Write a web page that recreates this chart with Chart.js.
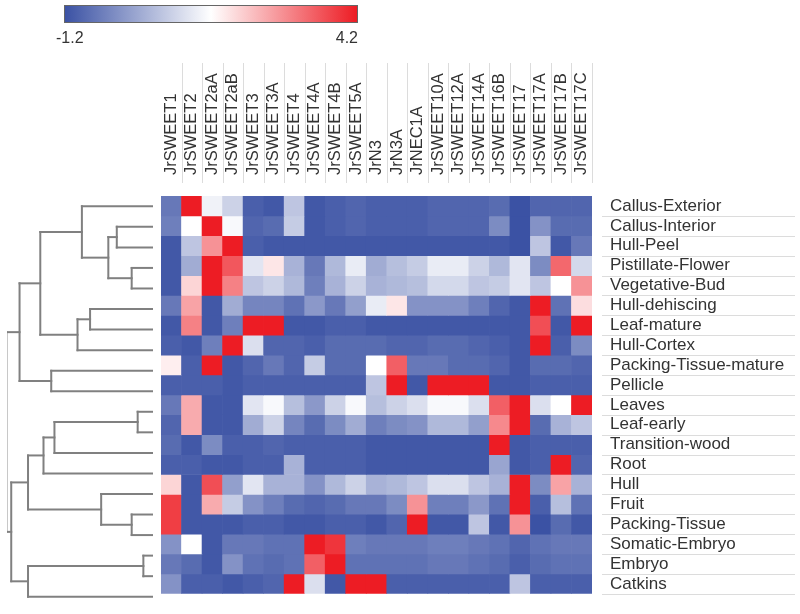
<!DOCTYPE html>
<html>
<head>
<meta charset="utf-8">
<script src="https://cdn.jsdelivr.net/npm/chart.js@4.4.1/dist/chart.umd.min.js"></script>
<style>
  body { margin: 0; background: #fff; }
  #wrap { position: relative; width: 800px; height: 614px; overflow: hidden; font-family: "Liberation Sans", Arial, sans-serif; }
  #heat { position: absolute; left: 0; top: 0; }
  #tree { position: absolute; left: 0; top: 196px; }
  #bar { position: absolute; left: 64px; top: 5px; width: 292px; height: 16px; border: 1px solid #666; }
  .lbl { position: absolute; top: 29px; font-size: 16px; color: #333; }
</style>
</head>
<body>
<div id="wrap">
  <canvas id="heat" width="800" height="614"></canvas>
  <canvas id="tree" width="161" height="411"></canvas>
  <div id="bar"></div>
  <div class="lbl" id="lblMin" style="left:56px;"></div>
  <div class="lbl" id="lblMax" style="right:442px;"></div>
</div>
<script>
const genes = ['JrSWEET1', 'JrSWEET2', 'JrSWEET2aA', 'JrSWEET2aB', 'JrSWEET3', 'JrSWEET3A', 'JrSWEET4',
  'JrSWEET4A', 'JrSWEET4B', 'JrSWEET5A', 'JrN3', 'JrN3A', 'JrNEC1A', 'JrSWEET10A', 'JrSWEET12A',
  'JrSWEET14A', 'JrSWEET16B', 'JrSWEET17', 'JrSWEET17A', 'JrSWEET17B', 'JrSWEET17C'];

const tissues = ['Callus-Exterior', 'Callus-Interior', 'Hull-Peel', 'Pistillate-Flower', 'Vegetative-Bud',
  'Hull-dehiscing', 'Leaf-mature', 'Hull-Cortex', 'Packing-Tissue-mature', 'Pellicle', 'Leaves',
  'Leaf-early', 'Transition-wood', 'Root', 'Hull', 'Fruit', 'Packing-Tissue', 'Somatic-Embryo',
  'Embryo', 'Catkins'];

const scaleMin = -1.2;
const scaleMax = 4.2;

// one row per tissue, one value per gene
const expression = [
  [-0.6, 4.2, 1.3, 0.8, -1.0, -1.1, 0.6, -1.1, -1.0, -0.9, -1.0, -1.0, -1.0, -0.9, -0.9, -0.9, -0.8, -1.2, -0.9, -0.9, -0.9],
  [-0.5, 1.5, 4.2, 1.4, -0.9, -0.8, 0.7, -1.1, -1.0, -0.9, -1.0, -1.0, -1.0, -0.9, -0.9, -0.9, -0.3, -1.2, -0.2, -0.8, -0.8],
  [-1.1, 0.6, 2.8, 4.2, -1.0, -1.1, -1.1, -1.1, -1.1, -1.1, -1.1, -1.1, -1.1, -1.1, -1.1, -1.1, -1.1, -1.2, 0.6, -1.1, -0.6],
  [-1.1, 0.2, 4.2, 3.5, 1.1, 1.8, 0.3, -0.6, 0.4, 1.2, 0.2, 0.5, 0.7, 1.2, 1.2, 0.8, 0.4, 1.1, -0.3, 3.3, 0.9],
  [-1.1, 2.0, 4.2, 3.0, 0.6, 0.8, 0.4, -0.5, 0.3, 0.8, 0.3, 0.4, 0.5, 0.9, 0.9, 0.6, 0.7, 1.1, 0.6, 1.5, 2.8],
  [-0.6, 2.6, -1.1, 0.2, -0.4, -0.4, -0.7, -0.1, -0.6, 0.0, 1.2, 1.8, -0.2, -0.2, -0.2, -0.5, -0.9, -1.1, 4.2, -0.7, 1.9],
  [-1.1, 3.0, -1.1, -0.5, 4.2, 4.2, -1.1, -1.1, -1.0, -1.0, -1.1, -1.1, -1.1, -1.1, -1.1, -1.1, -1.1, -1.1, 3.6, -1.1, 4.2],
  [-1.0, -1.1, -0.5, 4.2, 1.0, -0.9, -0.9, -1.0, -0.8, -0.8, -0.8, -0.9, -0.9, -0.8, -0.8, -0.9, -1.0, -1.1, 4.2, -1.0, -0.3],
  [1.7, -1.0, 4.2, -1.1, -0.9, -0.6, -0.9, 0.7, -0.8, -0.8, 1.5, 3.4, -0.6, -0.6, -0.8, -0.8, -0.9, -1.1, -0.8, -0.8, -0.9],
  [-1.0, -1.0, -1.0, -1.1, -1.0, -1.0, -1.0, -1.0, -1.0, -1.0, 0.6, 4.2, -1.1, 4.2, 4.2, 4.2, -1.1, -1.1, -1.0, -1.0, -1.0],
  [-0.6, 2.5, -1.1, -1.1, 1.1, 1.4, 0.5, -0.1, 0.8, 1.4, 0.5, 0.8, 1.0, 1.4, 1.4, 1.0, 3.4, 4.2, 1.0, 1.5, 4.2],
  [-0.9, 2.5, -1.1, -1.1, 0.2, 0.8, -0.4, -0.8, -0.3, 0.2, -0.5, -0.3, -0.2, 0.4, 0.4, 0.0, 2.9, 4.2, -0.8, 0.3, 0.6],
  [-0.8, -1.1, -0.3, -1.0, -1.0, -0.9, -1.0, -1.0, -1.0, -1.0, -1.1, -1.1, -1.1, -1.1, -1.1, -1.1, 4.2, -1.1, -1.0, -1.0, -1.0],
  [-1.0, -1.0, -1.1, -1.1, -1.0, -1.0, 0.3, -1.0, -1.0, -1.0, -1.1, -1.1, -1.1, -1.1, -1.1, -1.1, 0.1, -1.1, -1.0, 4.2, -0.9],
  [2.0, -1.1, 3.6, 0.0, 1.1, 0.3, 0.3, -0.2, 0.4, 0.8, 0.3, 0.4, 0.6, 1.0, 1.0, 0.6, 0.3, 4.2, -0.3, 2.6, 0.3],
  [3.8, -1.1, 2.5, 0.7, -0.2, -0.5, -0.8, -0.9, -0.8, -0.6, -0.6, -0.3, 2.8, -0.5, -0.5, -0.1, -0.7, 4.2, -1.0, 0.5, -0.7],
  [3.8, -1.1, -1.1, -1.1, -1.0, -1.0, -1.1, -1.1, -1.0, -1.0, -1.1, -0.9, 4.2, -1.1, -1.1, 0.6, -1.1, 2.8, -1.2, -0.8, -1.1],
  [-0.2, 1.5, -1.1, -0.6, -0.6, -0.7, -0.7, 4.2, 3.9, -0.5, -0.6, -0.6, -0.6, -0.5, -0.5, -0.6, -0.7, -0.9, -0.7, -0.6, -0.6],
  [-0.6, -0.8, -1.1, -0.2, -0.7, -0.8, -0.7, 3.4, 4.2, -0.7, -0.7, -0.7, -0.7, -0.6, -0.6, -0.7, -0.8, -1.0, -0.8, -0.7, -0.7],
  [-0.2, -1.0, -1.0, -1.1, -1.0, -0.9, 4.2, 1.0, -1.1, 4.2, 4.2, -1.0, -1.0, -1.0, -1.0, -1.0, -1.0, 0.6, -1.0, -1.0, -1.0]
];

// row dendrogram, scipy style: index < 20 is a tissue, otherwise merge (index - 20)
const mergeLeft   = [1, 3, 20, 0, 5, 24, 23, 8, 26, 10, 29, 30, 15, 14, 31, 17, 35, 34, 28];
const mergeRight  = [2, 4, 21, 22, 6, 7, 25, 9, 27, 11, 12, 13, 16, 32, 33, 18, 19, 36, 37];
const mergeHeight = [0.248, 0.146, 0.306, 0.487, 0.431, 0.517, 0.772, 0.697, 0.914, 0.105,
  0.675, 0.75, 0.146, 0.355, 0.856, 0.066, 0.856, 0.971, 1.0];

const blue = [59, 82, 164];
const white = [255, 255, 255];
const red = [237, 28, 36];

function valueColor(v) {
  let t = (v - scaleMin) / (scaleMax - scaleMin);
  t = Math.max(0, Math.min(1, t));
  let a, b, f;
  if (t < 0.5) { a = blue; b = white; f = t / 0.5; }
  else { a = white; b = red; f = (t - 0.5) / 0.5; }
  const c = a.map((x, i) => Math.round(x + (b[i] - x) * f));
  return `rgb(${c[0]},${c[1]},${c[2]})`;
}

const fontFamily = '"Liberation Sans", Arial, sans-serif';
const geneFontSize = 16.5;

// colour key
document.getElementById('bar').style.background =
  `linear-gradient(to right, ${valueColor(scaleMin)}, ${valueColor((scaleMin + scaleMax) / 2)}, ${valueColor(scaleMax)})`;
document.getElementById('lblMin').textContent = scaleMin.toFixed(1);
document.getElementById('lblMax').textContent = scaleMax.toFixed(1);

// thin separators beside the labels
const dividers = {
  id: 'dividers',
  afterDraw(chart) {
    const ctx = chart.ctx;
    const x = chart.scales.x, y = chart.scales.y, rows = chart.scales.rows;
    const band = (chart.chartArea.right - chart.chartArea.left) / genes.length;
    ctx.save();
    ctx.strokeStyle = '#dcdcdc';
    ctx.lineWidth = 1;
    ctx.beginPath();
    for (let i = 0; i < genes.length; i++) {
      const px = Math.round(x.getPixelForValue(i) + band / 2) + 0.5;
      ctx.moveTo(px, 63);
      ctx.lineTo(px, chart.chartArea.top - 13);
    }
    for (let r = 1; r <= tissues.length; r++) {
      const py = Math.round(y.getPixelForValue(r)) + 0.5;
      ctx.moveTo(rows.left + 10, py);
      ctx.lineTo(795, py);
    }
    ctx.stroke();
    ctx.restore();
  }
};

const heatDatasets = tissues.map((t, r) => ({
  label: t,
  data: genes.map(() => [r, r + 1]),
  backgroundColor: expression[r].map(valueColor),
  borderWidth: 0,
  grouped: false,
  barPercentage: 1,
  categoryPercentage: 1,
  yAxisID: 'y'
}));

new Chart(document.getElementById('heat').getContext('2d'), {
  type: 'bar',
  data: { labels: genes, datasets: heatDatasets },
  options: {
    responsive: false,
    animation: false,
    layout: { padding: { left: 161, top: 0, right: 0, bottom: 7 } },
    plugins: { legend: { display: false }, tooltip: { enabled: false } },
    scales: {
      x: {
        type: 'category',
        position: 'top',
        grid: { display: false },
        border: { display: false },
        ticks: {
          autoSkip: false, minRotation: 90, maxRotation: 90, padding: 13,
          // chart.js pushes rotated top labels one line height to the left
          labelOffset: geneFontSize * 1.2,
          color: '#333', font: { family: fontFamily, size: geneFontSize }
        },
        afterFit(s) { s.height = 196; }
      },
      y: { type: 'linear', min: 0, max: tissues.length, reverse: true, display: false },
      rows: {
        type: 'category',
        position: 'right',
        labels: tissues,
        offset: true,
        grid: { display: false },
        border: { display: false },
        ticks: { autoSkip: false, padding: 10, color: '#333', font: { family: fontFamily, size: 17 } },
        afterFit(s) { s.width = 208; }
      }
    }
  },
  plugins: [dividers]
});

// dendrogram segments from the merge table
function dendrogramSegments() {
  const pos = tissues.map((t, i) => [i + 0.5, 0]);
  const segs = [];
  mergeLeft.forEach((a, k) => {
    const b = mergeRight[k], h = mergeHeight[k];
    const [ya, ha] = pos[a], [yb, hb] = pos[b];
    const isRoot = k === mergeLeft.length - 1;
    segs.push({ pts: [{ x: ha, y: ya }, { x: h, y: ya }], light: false });
    segs.push({ pts: [{ x: hb, y: yb }, { x: h, y: yb }], light: false });
    segs.push({ pts: [{ x: h, y: ya }, { x: h, y: yb }], light: isRoot });
    pos.push([(ya + yb) / 2, h]);
  });
  return segs;
}

new Chart(document.getElementById('tree').getContext('2d'), {
  type: 'scatter',
  data: {
    datasets: dendrogramSegments().map(s => ({
      data: s.pts,
      showLine: true,
      pointRadius: 0,
      borderColor: s.light ? '#c8c8c8' : '#808080',
      borderWidth: 2,
      borderCapStyle: 'square'
    }))
  },
  options: {
    responsive: false,
    animation: false,
    layout: { padding: { left: 7, right: 8, top: 0, bottom: 0 } },
    plugins: { legend: { display: false }, tooltip: { enabled: false } },
    scales: {
      x: { type: 'linear', min: 0, max: 1, reverse: true, display: false },
      y: { type: 'linear', min: 0, max: tissues.length, reverse: true, display: false }
    }
  }
});
</script>
</body>
</html>
